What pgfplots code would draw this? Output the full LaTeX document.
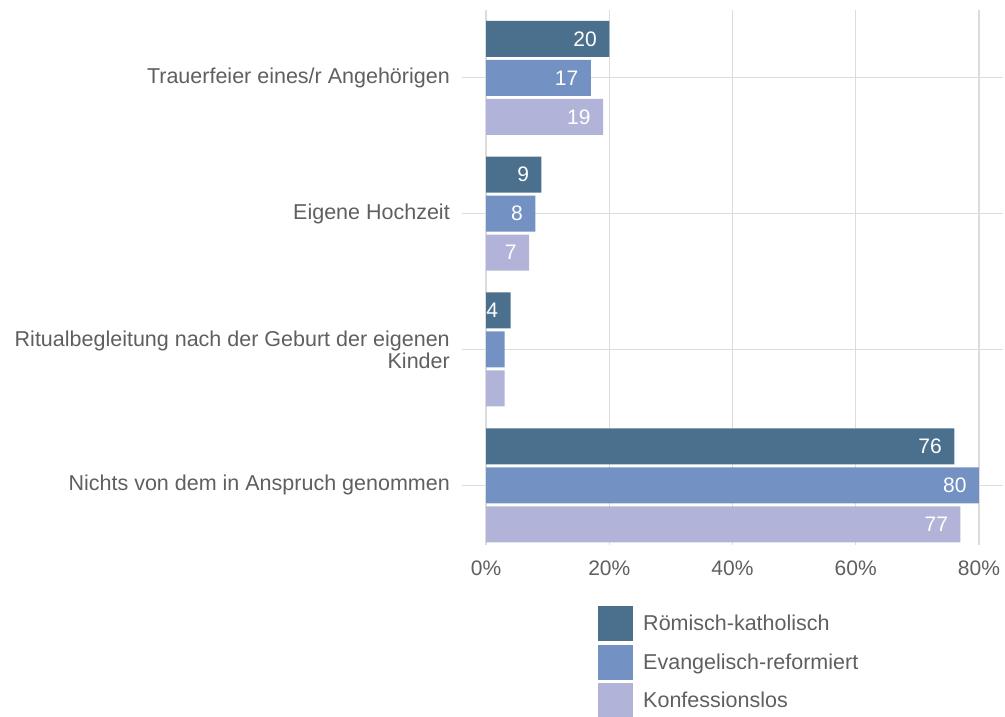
\documentclass[border=0pt]{standalone}
\usepackage{pgfplots}
\pgfplotsset{compat=1.18}
\usepackage{pgfplotstable}
\usepackage{fontspec}
\setmainfont{Liberation Sans}
\definecolor{rk}{HTML}{4A708E}
\definecolor{ev}{HTML}{7391C3}
\definecolor{kl}{HTML}{B1B4D8}
\definecolor{txt}{HTML}{5F5F5F}
\definecolor{grd}{HTML}{DCDCDC}
\pgfplotstableread{
y x lab
0 20 20
1 9 9
2 4 4
3 76 76
}\rk
\pgfplotstableread{
y x lab
0 17 17
1 8 8
2 3 {}
3 80 80
}\ev
\pgfplotstableread{
y x lab
0 19 19
1 7 7
2 3 {}
3 77 77
}\kl
\begin{document}
\begin{tikzpicture}
\useasboundingbox (0pt,0pt) rectangle (1005pt,716pt);
\begin{axis}[
  at={(462pt,171pt)}, anchor=south west,
  scale only axis, width=541pt, height=535pt,
  xbar, bar width=36pt,
  xmin=-3.9, xmax=83.9,
  ymin=-0.5, ymax=3.44, y dir=reverse,
  xtick={0,20,40,60,80},
  ytick={0,1,2,3},
  yticklabels={Trauerfeier eines/r Angehörigen, Eigene Hochzeit, {Ritualbegleitung nach der Geburt der eigenen\\Kinder}, Nichts von dem in Anspruch genommen},
  xticklabel={\pgfmathprintnumber{\tick}\%},
  /pgf/number format/assume math mode=true,
  axis line style={draw=none},
  major tick length=0pt,
  xmajorgrids, ymajorgrids,
  grid style={grd, line width=1.1pt},
  yticklabel style={font=\fontsize{21.5}{22}\selectfont, text=txt, align=right, inner sep=0pt, xshift=-12pt},
  xticklabel style={font=\fontsize{21}{24}\selectfont, text=txt, inner sep=0pt, yshift=-16pt},
  nodes near coords={\pgfplotspointmeta},
  point meta=explicit symbolic,
  every node near coord/.append style={anchor=east, xshift=-9pt, text=white, font=\fontsize{21}{24}\selectfont},
  legend image code/.code={\fill[#1] (0pt,-17.5pt) rectangle (35pt,17.5pt);},
  legend cell align=left,
  legend style={at={(0.2459,-0.110)}, anchor=north west, draw=none, fill=none,
    nodes={inner sep=0pt, text=txt, font=\fontsize{21.5}{24}\selectfont},
    column sep=10pt, row sep=3.5pt},
]
\addplot[fill=rk, draw=none, bar shift=39pt] table[x=x, y=y, meta=lab] {\rk};
\addplot[fill=ev, draw=none, bar shift=0pt] table[x=x, y=y, meta=lab] {\ev};
\addplot[fill=kl, draw=none, bar shift=-39pt] table[x=x, y=y, meta=lab] {\kl};
\legend{Römisch-katholisch, Evangelisch-reformiert, Konfessionslos}
\end{axis}
\end{tikzpicture}
\end{document}
